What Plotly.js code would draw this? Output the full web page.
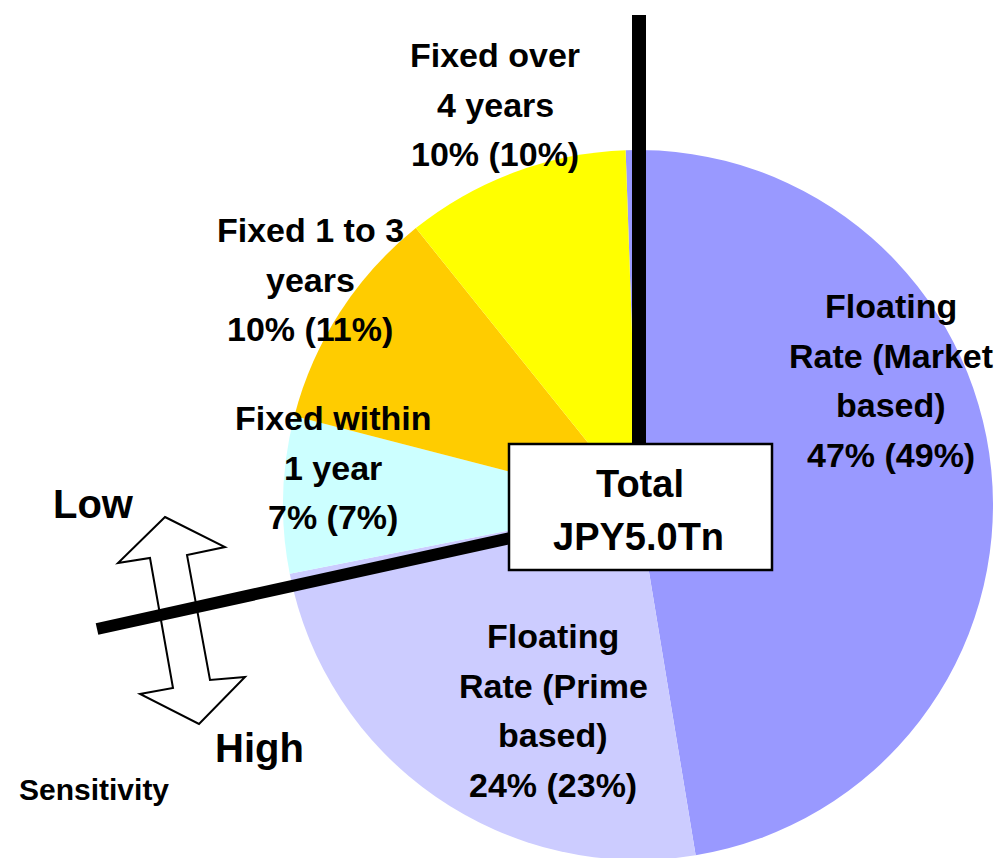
<!DOCTYPE html>
<html>
<head>
<meta charset="utf-8">
<script src="https://cdn.plot.ly/plotly-3.0.1.min.js"></script>
<style>
  html, body { margin: 0; padding: 0; overflow: hidden; background: #fff; }
</style>
</head>
<body>
<div id="chart"></div>
<script>
// Loan book by interest-rate type: current share, with the previous share in brackets
const categories = [
  'Floating<br>Rate (Market<br>based)',
  'Floating<br>Rate (Prime<br>based)',
  'Fixed within<br>1 year',
  'Fixed 1 to 3<br>years',
  'Fixed over<br>4 years'
];
const shareNow  = [47, 24, 7, 10, 10];
const sharePrev = [49, 23, 7, 11, 10];
const sliceColors = ['#9999FF', '#CCCCFF', '#CCFFFF', '#FFCC00', '#FFFF00'];
const totalLines = ['Total', 'JPY5.0Tn'];
const sensitivityLow = 'Low';
const sensitivityHigh = 'High';
const sensitivityTitle = 'Sensitivity';

// Page geometry (pixels) and helpers converting to paper coordinates
const W = 1002, H = 860;
const px = x => x / W;
const py = y => 1 - y / H;
const FONT = 'Liberation Sans, Arial, Helvetica, sans-serif';
const CX = 638, CY = 505, R = 355;

// centre x and first baseline of each slice's label block
const labelAnchors = [[891, 318], [553, 648], [333, 430], [310, 242], [495, 67]];
const LINE_STEP = 49.5;
const LABEL_SIZE = 34;

const annotations = [];
function addText(text, x, baseline, size) {
  annotations.push({
    xref: 'paper', yref: 'paper',
    x: px(x), y: py(baseline - 0.35 * size),
    xanchor: 'center', yanchor: 'middle',
    text: text, showarrow: false,
    font: { family: FONT, size: size, color: '#000', weight: 'bold' }
  });
}

categories.forEach((cat, i) => {
  const lines = cat.split('<br>').concat(`${shareNow[i]}% (${sharePrev[i]}%)`);
  const [x, b] = labelAnchors[i];
  lines.forEach((t, k) => addText(t, x, b + k * LINE_STEP, LABEL_SIZE));
});

addText(totalLines[0], 640, 497, 38);
addText(totalLines[1], 638, 550, 38);
addText(sensitivityLow, 93, 518, 40);
addText(sensitivityHigh, 259, 762, 40);
addText(sensitivityTitle, 94, 800, 30);

// hollow double-headed arrow for the sensitivity scale
const arrowPts = [
  [165, 517], [225, 547], [187, 555], [210, 680], [245, 677],
  [199, 724], [140, 694], [173, 688], [150, 558], [118, 563]
];
const arrowPath = 'M ' + arrowPts.map(p => px(p[0]) + ' ' + py(p[1])).join(' L ') + ' Z';

const shapes = [
  { type: 'path', xref: 'paper', yref: 'paper', path: arrowPath,
    fillcolor: '#FFFFFF', line: { color: '#000', width: 2 }, layer: 'above' },
  // divider between floating and fixed: top
  { type: 'line', xref: 'paper', yref: 'paper',
    x0: px(639), y0: py(15), x1: px(639), y1: py(CY),
    line: { color: '#000', width: 14 }, layer: 'above' },
  // divider between floating and fixed: lower left
  { type: 'line', xref: 'paper', yref: 'paper',
    x0: px(97), y0: py(629), x1: px(515), y1: py(537),
    line: { color: '#000', width: 12 }, layer: 'above' },
  { type: 'rect', xref: 'paper', yref: 'paper',
    x0: px(509), y0: py(444), x1: px(772), y1: py(570),
    fillcolor: '#FFFFFF', line: { color: '#000', width: 2.5 }, layer: 'above' }
];

const data = [{
  type: 'pie',
  labels: categories,
  values: shareNow,
  sort: false,
  direction: 'clockwise',
  rotation: -2,
  marker: { colors: sliceColors, line: { width: 0 } },
  textinfo: 'none',
  hoverinfo: 'skip',
  showlegend: false,
  domain: { x: [px(CX - R), px(CX + R)], y: [py(CY + R), py(CY - R)] }
}];

const layout = {
  width: W, height: H,
  margin: { l: 0, r: 0, t: 0, b: 0 },
  paper_bgcolor: '#FFFFFF',
  plot_bgcolor: '#FFFFFF',
  showlegend: false,
  shapes: shapes,
  annotations: annotations
};

Plotly.newPlot('chart', data, layout, { displayModeBar: false, staticPlot: true });
</script>
</body>
</html>
